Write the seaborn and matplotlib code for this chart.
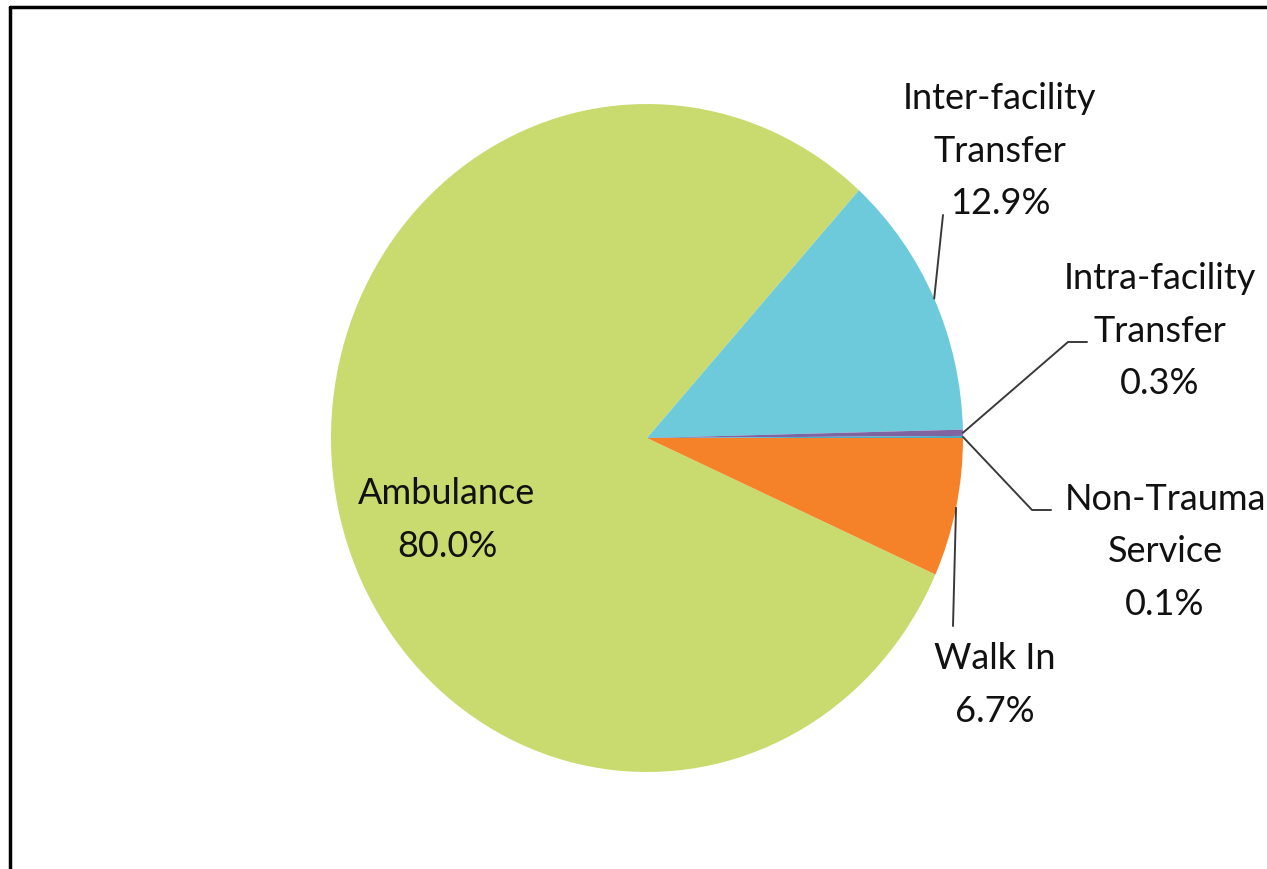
import numpy as np
import matplotlib.pyplot as plt
import seaborn as sns
from matplotlib.lines import Line2D

# arrival mode shares (%)
sources = ["Ambulance", "Inter-facility\nTransfer", "Intra-facility\nTransfer",
           "Non-Trauma\nService", "Walk In"]
shares = [80.0, 12.9, 0.3, 0.1, 6.7]
colors = ["#C9DB6E", "#6DCADB", "#8064A2", "#4BACC6", "#F58228"]

sns.set_theme(style="white")
plt.rcParams["font.family"] = ["Lato", "DejaVu Sans"]

W, H = 1267, 870
CX, CY, RX, RY = 647, 439, 316, 334


def px(x, y):
    # pixel position -> pie data coords (pie is slightly stretched vertically)
    return (x - CX) / RX, (CY - y) / RY


fig = plt.figure(figsize=(W / 100, H / 100), dpi=100)
ax = fig.add_axes([0, 0, 1, 1])
wedges, _ = ax.pie(shares, colors=colors, startangle=-3.6 * shares[-1],
                   counterclock=False, wedgeprops=dict(linewidth=0))
ax.set_aspect("auto")
ax.set_xlim(px(0, 0)[0], px(W, 0)[0])
ax.set_ylim(px(0, H)[1], px(0, 0)[1])
ax.axis("off")

labels = [f"{s}\n{v:.1f}%" for s, v in zip(sources, shares)]
# label centre, leader bend / end (pixels)
label_pos = [(447, 520), (1000, 151), (1160, 331), (1165, 552), (995, 685)]
leaders = [None,
           [(943, 216)],
           [(1068, 343), (1087, 343)],
           [(1032, 511), (1051, 511)],
           [(953, 627)]]

for w, lab, pos, lead in zip(wedges, labels, label_pos, leaders):
    ax.text(*px(*pos), lab, ha="center", va="center", fontsize=26,
            linespacing=1.72, color="#111111")
    if lead:
        mid = np.deg2rad((w.theta1 + w.theta2) / 2)
        xs = [np.cos(mid)] + [px(*p)[0] for p in lead]
        ys = [np.sin(mid)] + [px(*p)[1] for p in lead]
        ax.plot(xs, ys, color="#3a3a3a", lw=1.4)

# outer frame (cut off at right and bottom in the original)
fig.add_artist(Line2D([9.5 / W, 1], [1 - 7.5 / H, 1 - 7.5 / H], color="black", lw=2.5,
                      transform=fig.transFigure))
fig.add_artist(Line2D([9.5 / W, 9.5 / W], [0, 1 - 7.5 / H], color="black", lw=2.5,
                      transform=fig.transFigure))

fig.savefig("out.png", dpi=100)
